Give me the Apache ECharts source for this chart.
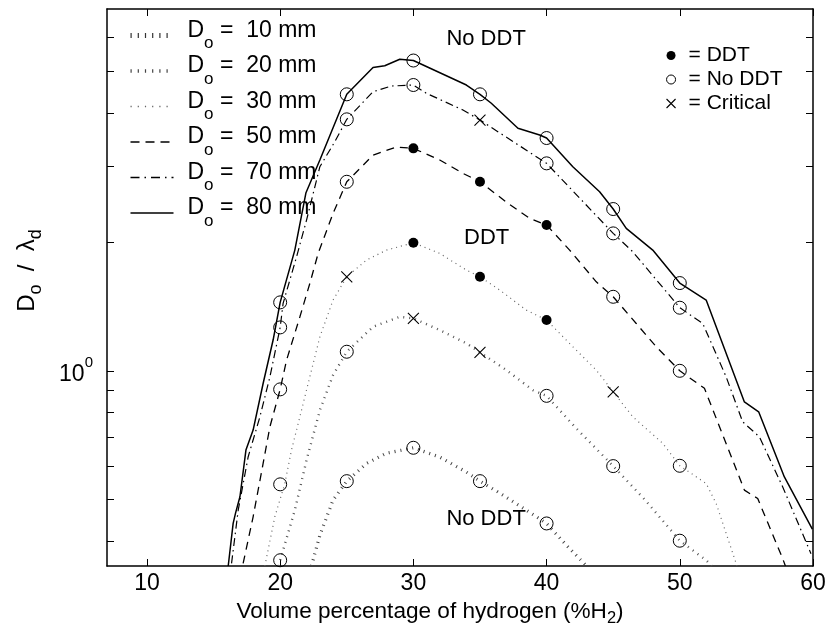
<!DOCTYPE html>
<html>
<head>
<meta charset="utf-8">
<script src="https://cdn.jsdelivr.net/npm/echarts@6/dist/echarts.min.js"></script>
<style>
html, body { margin: 0; padding: 0; background: #fff; }
#chart { width: 828px; height: 628px; }
</style>
</head>
<body>
<div id="chart"></div>
<script>
const FONT = '"Liberation Sans", Arial, Helvetica, sans-serif';

// Boundary curves D_o / lambda_d against hydrogen volume fraction, one per tube diameter
const x10 = [22.35, 22.98, 23.97, 25, 26.48, 27.98, 30, 31.98, 33.98, 35, 36.48, 38.48, 40, 41.48, 43.0];
const y10 = [0.35, 0.413, 0.499, 0.5524, 0.6075, 0.642, 0.661, 0.6287, 0.58, 0.5524, 0.518, 0.4725, 0.44, 0.3916, 0.35];

const x20 = [19.9, 20, 21.10, 21.98, 22.98, 23.97, 25, 26.97, 28.98, 30, 31.98, 33.98, 35, 36.98, 38.97, 40, 42.23, 45, 47.4, 50, 51.98, 52.4];
const y20 = [0.35, 0.361, 0.4725, 0.6185, 0.809, 0.977, 1.108, 1.267, 1.337, 1.326, 1.245, 1.159, 1.104, 1.004, 0.901, 0.874, 0.7336, 0.599, 0.499, 0.401, 0.361, 0.35];

const x30 = [18.85, 19.60, 20.35, 20.85, 21.48, 22.10, 22.98, 23.97, 25, 26.48, 27.98, 30, 31.98, 33.98, 35, 36.48, 38.48, 40, 41.97, 43.73, 45, 46.47, 48.72, 50, 51.98, 52.73, 54.23, 54.29];
const y30 = [0.35, 0.456, 0.5455, 0.653, 0.781, 0.934, 1.2, 1.463, 1.658, 1.814, 1.914, 1.991, 1.88, 1.719, 1.658, 1.544, 1.386, 1.314, 1.138, 1.004, 0.893, 0.781, 0.677, 0.600, 0.5455, 0.49, 0.355, 0.35];

const x50 = [17.22, 17.97, 18.72, 19.23, 20, 20.48, 21.48, 22.23, 22.85, 23.97, 25, 26.97, 28.73, 30, 31.98, 33.72, 35, 37.10, 38.73, 40, 41.73, 43.73, 45, 46.73, 48.23, 50, 51.85, 54.85, 55.85, 57.72, 57.93];
const y50 = [0.355, 0.456, 0.6075, 0.74, 0.905, 1.059, 1.337, 1.601, 1.88, 2.332, 2.764, 3.19, 3.332, 3.308, 3.107, 2.892, 2.764, 2.461, 2.27, 2.19, 1.914, 1.614, 1.489, 1.29, 1.138, 1.0, 0.91, 0.5265, 0.503, 0.3645, 0.35];

const x70 = [16.35, 16.85, 17.60, 18.48, 19.23, 20, 20.22, 21.23, 21.98, 22.98, 24.10, 25, 26.97, 28.35, 30, 30.98, 33.72, 35, 40, 45, 46.47, 50, 51.72, 53.48, 54.72, 55.98, 57.72, 59.85];
const y70 = [0.355, 0.4725, 0.630, 0.781, 0.968, 1.263, 1.437, 1.846, 2.249, 2.997, 3.428, 3.867, 4.486, 4.626, 4.651, 4.448, 4.066, 3.852, 3.052, 2.094, 1.897, 1.404, 1.29, 0.968, 0.760, 0.701, 0.536, 0.374];

const x80 = [16.10, 16.47, 16.65, 16.98, 17.43, 17.97, 18.72, 19.47, 20, 21.10, 21.93, 22.98, 25, 26.97, 27.85, 28.98, 29.58, 30, 33.98, 35, 35.85, 37.85, 39.48, 40, 41.97, 43.98, 45, 45.98, 47.97, 50, 51.98, 54.85, 55.92, 57.85, 59.95];
const y80 = [0.350, 0.440, 0.465, 0.508, 0.653, 0.727, 0.934, 1.18, 1.445, 1.914, 2.601, 3.107, 4.424, 5.11, 5.16, 5.341, 5.32, 5.306, 4.651, 4.424, 4.216, 3.685, 3.554, 3.497, 2.997, 2.619, 2.387, 2.151, 1.914, 1.603, 1.463, 0.846, 0.802, 0.565, 0.427];

// Experimental outcomes at the tested compositions: D = DDT, N = no DDT, C = critical
const markX = [20, 25, 30, 35, 40, 45, 50];
const mark10 = [null, 0.5524, 0.661, 0.5524, 0.44, null, null];
const kind10 = ['', 'N', 'N', 'N', 'N', '', ''];
const mark20 = [0.361, 1.108, 1.326, 1.104, 0.874, 0.599, 0.401];
const kind20 = ['N', 'N', 'C', 'C', 'N', 'N', 'N'];
const mark30 = [0.543, 1.658, 1.991, 1.658, 1.314, 0.893, 0.600];
const kind30 = ['N', 'C', 'D', 'D', 'D', 'C', 'N'];
const mark50 = [0.905, 2.764, 3.308, 2.764, 2.19, 1.489, 1.0];
const kind50 = ['N', 'N', 'D', 'D', 'D', 'N', 'N'];
const mark70 = [1.263, 3.867, 4.651, 3.852, 3.052, 2.094, 1.404];
const kind70 = ['N', 'N', 'N', 'C', 'N', 'N', 'N'];
const mark80 = [1.445, 4.424, 5.306, 4.424, 3.497, 2.387, 1.603];
const kind80 = ['N', 'N', 'N', 'N', 'N', 'N', 'N'];

// Region labels
const annoText = ['No DDT', 'DDT', 'No DDT'];
const annoX = [35.46, 35.5, 35.46];
const annoY = [5.957, 2.048, 0.450];

// Axis ticks
const xTicks = [10, 20, 30, 40, 50, 60];
const yTicks = [0.4, 0.5, 0.6, 0.7, 0.8, 0.9, 1, 2, 3, 4, 5, 6];
const yLabelTicks = [1];

const curveNames = ['10 mm', '20 mm', '30 mm', '50 mm', '70 mm', '80 mm'];
const curves = [[x10, y10], [x20, y20], [x30, y30], [x50, y50], [x70, y70], [x80, y80]];
const marks = [[mark10, kind10], [mark20, kind20], [mark30, kind30], [mark50, kind50], [mark70, kind70], [mark80, kind80]];

const lineStyles = [
  { color: '#444', width: 3.2, type: [1, 5] },
  { color: '#555', width: 2.4, type: [1, 5] },
  { color: '#666', width: 1.2, type: [1, 4] },
  { color: '#000', width: 1.3, type: [8, 6] },
  { color: '#000', width: 1.2, type: [8, 4, 1.5, 4] },
  { color: '#000', width: 1.5, type: 'solid' }
];
// Legend samples draw the dotted patterns a little bolder
const legendLineStyles = [
  { color: '#333', width: 5, type: [1.2, 6] },
  { color: '#444', width: 3.5, type: [1.2, 6] },
  { color: '#666', width: 1.5, type: [1.2, 6] },
  { color: '#000', width: 1.3, type: [9, 6] },
  { color: '#000', width: 1.3, type: [9, 5, 1.5, 5] },
  { color: '#000', width: 1.5, type: 'solid' }
];

const CROSS = 'path://M0,0L10,10M10,0L0,10';

function collect(code) {
  const out = [];
  marks.forEach(([vals, kinds]) => {
    vals.forEach((v, i) => {
      if (v !== null && kinds[i] === code) out.push([markX[i], v]);
    });
  });
  return out;
}

const series = curves.map(([xs, ys], k) => ({
  name: curveNames[k],
  type: 'line',
  symbol: 'none',
  clip: true,
  silent: true,
  lineStyle: lineStyles[k],
  itemStyle: { color: lineStyles[k].color },
  data: xs.map((x, i) => [x, ys[i]])
}));

series.push({
  name: 'DDT', type: 'scatter', symbol: 'circle', symbolSize: 10, silent: true,
  itemStyle: { color: '#000', opacity: 1 }, data: collect('D'), z: 5
});
series.push({
  name: 'No DDT', type: 'scatter', symbol: 'circle', symbolSize: 13, silent: true,
  itemStyle: { color: 'rgba(0,0,0,0)', borderColor: '#000', borderWidth: 1, opacity: 1 }, data: collect('N'), z: 5
});
series.push({
  name: 'Critical', type: 'scatter', symbol: CROSS, symbolSize: 11, silent: true,
  itemStyle: { color: 'rgba(0,0,0,0)', borderColor: '#000', borderWidth: 1.1, opacity: 1 }, data: collect('C'), z: 5
});
series.push({
  name: 'regions', type: 'scatter', symbolSize: 1, silent: true,
  itemStyle: { color: 'rgba(0,0,0,0)', opacity: 1 },
  label: { show: true, position: 'inside', formatter: '{b}', fontSize: 22, fontFamily: FONT, color: '#000', opacity: 1 },
  data: annoText.map((t, i) => ({ name: t, value: [annoX[i], annoY[i]] })),
  z: 6
});

const tickStyle = { inside: true, length: 7, lineStyle: { color: '#000', width: 1 } };
const lineAx = { show: true, onZero: false, lineStyle: { color: '#000', width: 1.5 } };

const option = {
  backgroundColor: '#fff',
  animation: false,
  grid: { left: 107, right: 15, top: 9, bottom: 62, containLabel: false, outerBoundsMode: 'none' },
  xAxis: [
    {
      type: 'value', min: 7, max: 60, position: 'bottom',
      axisLine: lineAx,
      axisTick: Object.assign({ customValues: xTicks }, tickStyle),
      axisLabel: { customValues: xTicks, fontSize: 23, fontFamily: FONT, color: '#000', margin: 6 },
      splitLine: { show: false },
      name: 'Volume percentage of hydrogen (%H{s|2})',
      nameLocation: 'middle', nameGap: 23,
      nameTextStyle: {
        padding: [0, 60, 0, 0],
        rich: {
          s: { fontSize: 16.5, fontFamily: FONT, color: '#000', verticalAlign: 'top', padding: [14, 0, 0, 0] }
        },
        fontSize: 22.6, fontFamily: FONT, color: '#000', verticalAlign: 'top'
      }
    },
    {
      type: 'value', min: 7, max: 60, position: 'top',
      axisLine: lineAx,
      axisTick: Object.assign({ customValues: xTicks }, tickStyle),
      axisLabel: { show: false },
      splitLine: { show: false }
    }
  ],
  yAxis: [
    {
      type: 'log', logBase: 10, min: 0.35, max: 7, position: 'left',
      axisLine: lineAx,
      axisTick: Object.assign({ customValues: yTicks }, tickStyle),
      minorTick: { show: false },
      axisLabel: {
        customValues: yLabelTicks,
        margin: 14,
        formatter: v => (Math.abs(v - 1) < 1e-6 ? '{b|10}{p|0}' : ''),
        rich: {
          b: { fontSize: 23, fontFamily: FONT, color: '#000', verticalAlign: 'top', padding: [7, 0, 0, 0] },
          p: { fontSize: 15, fontFamily: FONT, color: '#000', verticalAlign: 'top' }
        }
      },
      splitLine: { show: false },
      name: '{d|D}{s|o}{d|  /  λ}{s|d}',
      nameLocation: 'middle', nameGap: 62,
      nameTextStyle: {
        padding: [0, 0, 0, 34],
        rich: {
          d: { fontSize: 24, fontFamily: FONT, color: '#000', verticalAlign: 'top' },
          s: { fontSize: 18, fontFamily: FONT, color: '#000', verticalAlign: 'top', padding: [12, 0, 0, 0] }
        }
      }
    },
    {
      type: 'log', logBase: 10, min: 0.35, max: 7, position: 'right',
      axisLine: lineAx,
      axisTick: Object.assign({ customValues: yTicks }, tickStyle),
      minorTick: { show: false },
      axisLabel: { show: false },
      splitLine: { show: false }
    }
  ],
  legend: [
    {
      data: curveNames.map((n, k) => ({ name: n, lineStyle: legendLineStyles[k] })),
      orient: 'vertical', left: 128, top: 19, padding: 0,
      itemGap: 2.5, itemWidth: 43, itemHeight: 12,
      selectedMode: false,
      itemStyle: { color: 'rgba(0,0,0,0)', borderWidth: 0, opacity: 0 },
      formatter: n => '{d|D}{s|o}{d| =  ' + n + '}',
      textStyle: {
        padding: [0, 0, 0, 9],
        rich: {
          d: { fontSize: 23, fontFamily: FONT, color: '#000', verticalAlign: 'top' },
          s: { fontSize: 17, fontFamily: FONT, color: '#000', verticalAlign: 'top', padding: [16, 0, 0, 0] }
        }
      }
    },
    {
      data: [
        { name: 'DDT', icon: 'circle', itemStyle: { color: '#000' } },
        { name: 'No DDT', icon: 'circle', itemStyle: { color: 'rgba(0,0,0,0)', borderColor: '#000', borderWidth: 1 } },
        { name: 'Critical', icon: CROSS, itemStyle: { color: 'rgba(0,0,0,0)', borderColor: '#000', borderWidth: 1.1 } }
      ],
      orient: 'vertical', left: 666, top: 45, padding: 0,
      itemGap: 3, itemWidth: 9, itemHeight: 9,
      selectedMode: false,
      formatter: n => '= ' + n,
      textStyle: { fontSize: 21, fontFamily: FONT, color: '#000', padding: [0, 0, 0, 8] }
    }
  ],
  series: series
};

const chart = echarts.init(document.getElementById('chart'), null, { renderer: 'canvas' });
chart.setOption(option);
</script>
</body>
</html>
